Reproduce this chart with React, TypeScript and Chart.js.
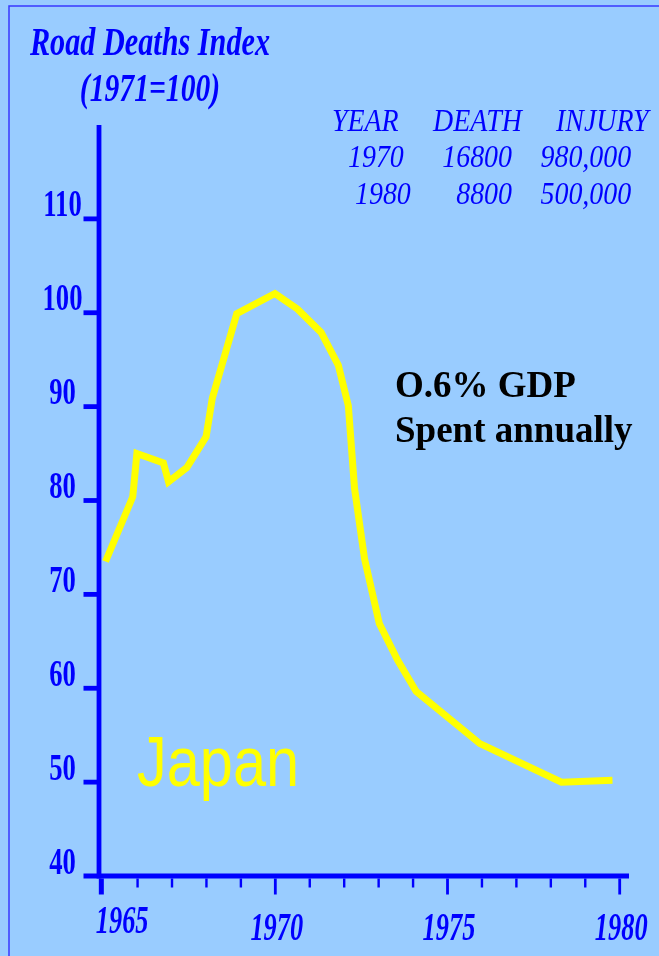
import { useEffect, useRef } from "react";
import { Chart, registerables } from "chart.js";

Chart.register(...registerables);

// Road deaths index for Japan, 1971 = 100
const years = [
  1965.07, 1965.86, 1965.98, 1966.75, 1966.9, 1967.43, 1967.99, 1968.17, 1968.88,
  1969.99, 1970.64, 1971.33, 1971.83, 1972.12, 1972.3, 1972.59, 1973.02, 1973.55,
  1974.09, 1975.94, 1978.31, 1979.79,
];
const deathIndex = [
  73.5, 80.4, 85.0, 84.0, 82.0, 83.5, 86.8, 90.9, 99.9,
  102.05, 100.4, 97.9, 94.4, 90.1, 81.3, 73.8, 66.9, 63.0,
  59.65, 54.1, 50.0, 50.2,
];

const yTickValues = [50, 60, 70, 80, 90, 100, 110];
const yTickLabels = [40, 50, 60, 70, 80, 90, 100, 110];
const xMajorYears = [1965, 1970, 1975, 1980];
const xMinorYears = [1966, 1967, 1968, 1969, 1971, 1972, 1973, 1974, 1976, 1977, 1978, 1979];

const titleLines = ["Road Deaths Index", "(1971=100)"];
const tableHeader = ["YEAR", "DEATH", "INJURY"];
const tableRows = [
  ["1970", "16800", "980,000"],
  ["1980", "8800", "500,000"],
];
const noteLines = ["O.6% GDP", "Spent annually"];
const countryLabel = "Japan";

const BLUE = "#0000FF";
const BG = "#99CCFF";
const SERIF = '"Liberation Serif", "Times New Roman", serif';
const SANS = '"Liberation Sans", Arial, sans-serif';

function drawText(
  ctx: CanvasRenderingContext2D,
  text: string,
  x: number,
  y: number,
  font: string,
  color: string,
  sx: number,
  align: CanvasTextAlign = "left"
) {
  ctx.save();
  ctx.translate(x, y);
  ctx.scale(sx, 1);
  ctx.font = font;
  ctx.fillStyle = color;
  ctx.textAlign = align;
  ctx.textBaseline = "alphabetic";
  ctx.fillText(text, 0, 0);
  ctx.restore();
}

const decorPlugin = {
  id: "decor",
  beforeDraw(chart: any) {
    const { ctx, width, height } = chart;
    ctx.save();
    ctx.fillStyle = BG;
    ctx.fillRect(0, 0, width, height);
    ctx.strokeStyle = "#3838FF";
    ctx.lineWidth = 1.5;
    ctx.strokeRect(9, 6, width + 10, height + 10);
    ctx.restore();
  },
  beforeDatasetsDraw(chart: any) {
    const { ctx, chartArea } = chart;
    const xs = chart.scales.x;
    const ys = chart.scales.y;
    const { left, right, top, bottom } = chartArea;
    ctx.save();
    ctx.fillStyle = BLUE;

    // axis lines
    ctx.fillRect(left - 2.4, top, 4.8, bottom + 2.5 - top);
    ctx.fillRect(left - 15.5, bottom - 2.5, right - (left - 15.5), 5);

    // y ticks
    for (const v of yTickValues) {
      const y = ys.getPixelForValue(v);
      ctx.fillRect(left - 15.5, y - 2.4, 15.5, 4.8);
    }
    // x ticks
    for (const v of xMajorYears) {
      const x = xs.getPixelForValue(v);
      const first = v === xMajorYears[0];
      const w = first ? 5 : 2.8;
      ctx.fillRect(x - w / 2 - (first ? 1.8 : 0), bottom + 2.5, w, 16);
    }
    for (const v of xMinorYears) {
      const x = xs.getPixelForValue(v);
      ctx.fillRect(x - 1.2, bottom + 2.5, 2.4, 9);
    }

    // y labels
    for (const v of yTickLabels) {
      const y = ys.getPixelForValue(v);
      drawText(ctx, String(v), left - 36.5, y - 2.5, `bold 37px ${SERIF}`, BLUE, 0.72, "center");
    }
    // x labels
    xMajorYears.forEach((v, i) => {
      const x = xs.getPixelForValue(v);
      const first = i === 0;
      drawText(
        ctx,
        String(v),
        first ? x + 19 : x + 1.5,
        first ? bottom + 57 : bottom + 64,
        `bold italic 40px ${SERIF}`,
        BLUE,
        0.66,
        "center"
      );
    });

    // title
    drawText(ctx, titleLines[0], 150, 55, `bold italic 39px ${SERIF}`, BLUE, 0.775, "center");
    drawText(ctx, titleLines[1], 150, 101, `bold italic 39px ${SERIF}`, BLUE, 0.76, "center");

    // summary table
    const tf = `italic 31px ${SERIF}`;
    const headerX = [332, 433, 556];
    headerX.forEach((x, i) => drawText(ctx, tableHeader[i], x, 131, tf, BLUE, 0.9));
    const rowBase = [166.7, 204.3];
    const yearX = [348, 355];
    tableRows.forEach((row, r) => {
      drawText(ctx, row[0], yearX[r], rowBase[r], tf, BLUE, 0.9);
      drawText(ctx, row[1], 512, rowBase[r], tf, BLUE, 0.9, "right");
      drawText(ctx, row[2], 540.5, rowBase[r], tf, BLUE, 0.9);
    });

    // note
    drawText(ctx, noteLines[0], 395, 397, `bold 37px ${SERIF}`, "#000000", 1);
    drawText(ctx, noteLines[1], 395, 441.5, `bold 37px ${SERIF}`, "#000000", 1);

    // country
    drawText(ctx, countryLabel, 137, 786, `70px ${SANS}`, "#FFFF00", 0.85);

    ctx.restore();
  },
};

export default function App() {
  const canvasRef = useRef<HTMLCanvasElement | null>(null);

  useEffect(() => {
    const canvas = canvasRef.current;
    if (!canvas) return;
    const chart = new Chart(canvas, {
      type: "line",
      data: {
        datasets: [
          {
            data: years.map((x, i) => ({ x, y: deathIndex[i] })),
            borderColor: "#FFFF00",
            borderWidth: 7,
            borderJoinStyle: "miter",
            borderCapStyle: "butt",
            pointRadius: 0,
            tension: 0,
            fill: false,
          },
        ],
      },
      options: {
        responsive: false,
        animation: false,
        devicePixelRatio: 1,
        layout: { padding: { left: 99, top: 125, right: 30, bottom: 80 } },
        plugins: { legend: { display: false }, title: { display: false }, tooltip: { enabled: false } },
        scales: {
          x: { type: "linear", min: 1964.88, max: 1980.27, display: false },
          y: { type: "linear", min: 40, max: 120, display: false },
        },
      },
      plugins: [decorPlugin],
    });
    return () => chart.destroy();
  }, []);

  return (
    <div style={{ position: "fixed", left: 0, top: 0, width: 659, height: 956, background: BG }}>
      <canvas ref={canvasRef} width={659} height={956} style={{ display: "block" }} />
    </div>
  );
}
